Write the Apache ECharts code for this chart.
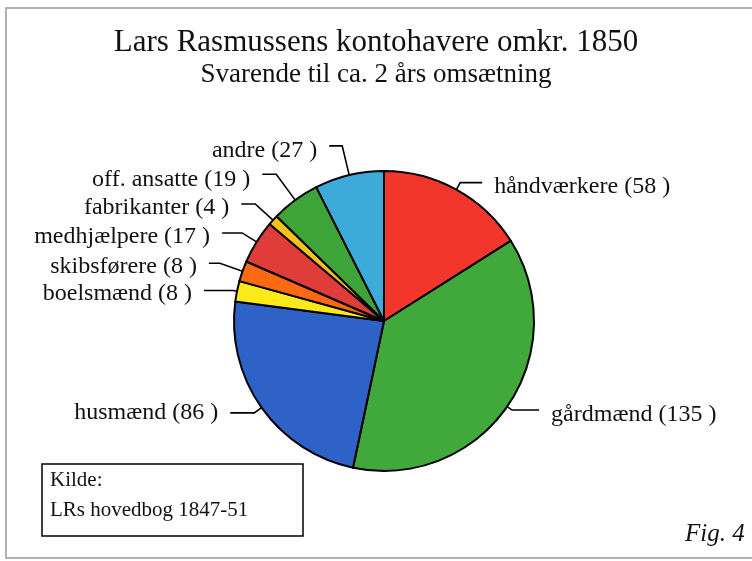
<!DOCTYPE html>
<html>
<head>
<meta charset="utf-8">
<script src="https://cdn.jsdelivr.net/npm/echarts@6/dist/echarts.min.js"></script>
<style>html,body{margin:0;background:#fff}#chart{width:752px;height:561px}</style>
</head>
<body>
<div id="chart"></div>
<script>
var names = ['håndværkere', 'gårdmænd', 'husmænd', 'boelsmænd', 'skibsførere', 'medhjælpere', 'fabrikanter', 'off. ansatte', 'andre'];
var values = [58, 135, 86, 8, 8, 17, 4, 19, 27];
var colors = ['#f2362b', '#41a83b', '#2f62c6', '#fbea17', '#fd6a12', '#df3c3a', '#f4c21a', '#3ea43a', '#3cabd9'];

// leader lines: radial part and horizontal part, per slice
var lineLen = [8, 6, 9, 4, 24, 17, 24, 32, 30];
var lineLen2 = [22, 27, 24, 29, 11, 20, 14, 14, 13];
// text sits a little under its leader line, except husmænd
var labelDrop = [4, 5, 0, 3, 3, 4, 4, 5, 5];

var serif = 'Liberation Serif, Times New Roman, serif';

var rich = { t: { fontFamily: serif, fontSize: 24, color: '#111' } };
labelDrop.forEach(function (d, i) {
  rich['d' + i] = { height: d * 2, lineHeight: d * 2, fontSize: 1 };
});

var chart = echarts.init(document.getElementById('chart'));

chart.setOption({
  animation: false,
  title: [
    {
      text: 'Lars Rasmussens kontohavere omkr. 1850',
      left: 'center',
      top: 22,
      textStyle: { fontFamily: serif, fontSize: 31, fontWeight: 'normal', color: '#111' }
    },
    {
      text: 'Svarende til ca. 2 års omsætning',
      left: 'center',
      top: 56,
      textStyle: { fontFamily: serif, fontSize: 27, fontWeight: 'normal', color: '#111' }
    }
  ],
  series: [
    {
      type: 'pie',
      center: [384, 321],
      radius: 150,
      startAngle: 90,
      clockwise: true,
      avoidLabelOverlap: false,
      labelLayout: { hideOverlap: false },
      emphasis: { disabled: true },
      itemStyle: { borderColor: '#000', borderWidth: 2 },
      label: {
        show: true,
        position: 'outside',
        formatter: function (p) {
          var t = '{t|' + p.name + ' (' + p.value + ' )}';
          return labelDrop[p.dataIndex] ? '{d' + p.dataIndex + '|}\n' + t : t;
        },
        rich: rich,
        fontFamily: serif,
        fontSize: 24,
        color: '#111',
        distanceToLabelLine: 12
      },
      labelLine: {
        show: true,
        lineStyle: { color: '#000', width: 1.6 }
      },
      data: names.map(function (n, i) {
        return {
          name: n,
          value: values[i],
          itemStyle: { color: colors[i] },
          labelLine: { length: lineLen[i], length2: lineLen2[i] }
        };
      })
    }
  ],
  graphic: [
    {
      type: 'rect',
      shape: { x: 6, y: 8, width: 760, height: 550 },
      style: { fill: 'none', stroke: '#999', lineWidth: 1.5 },
      silent: true
    },
    {
      type: 'rect',
      shape: { x: 42, y: 464, width: 261, height: 72 },
      style: { fill: '#fff', stroke: '#000', lineWidth: 1.5 }
    },
    {
      type: 'text',
      left: 50,
      top: 465,
      style: { text: 'Kilde:\nLRs hovedbog 1847-51', font: '21px ' + serif, lineHeight: 30, fill: '#111' }
    },
    {
      type: 'text',
      left: 685,
      top: 522,
      style: { text: 'Fig. 4', font: 'italic 25px ' + serif, fill: '#111' }
    }
  ]
});
</script>
</body>
</html>
